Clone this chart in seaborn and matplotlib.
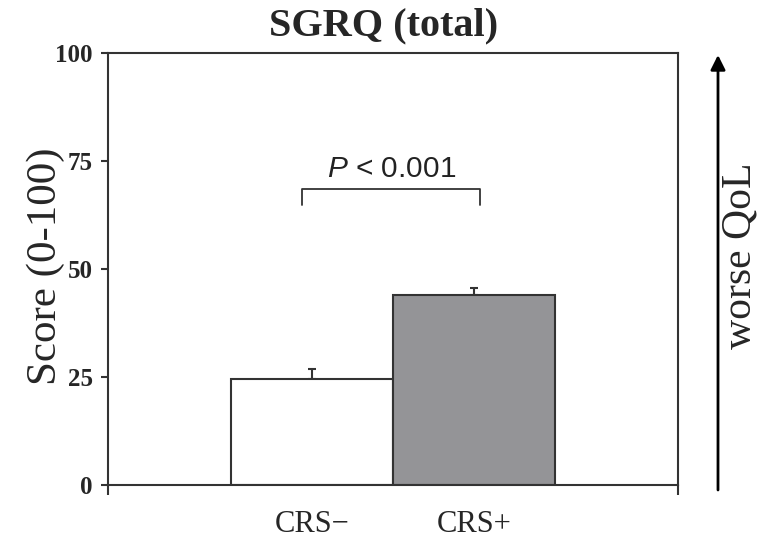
import matplotlib
matplotlib.use('Agg')
import matplotlib.pyplot as plt
import seaborn as sns
import pandas as pd

# ---- data ----
groups = ['CRS\u2212', 'CRS+']
means = [24.5, 44.0]
err_upper = [2.4, 1.6]
bar_colors = ['#ffffff', '#939498']
yticks = [0, 25, 50, 75, 100]
title = 'SGRQ (total)'
ylabel = 'Score (0-100)'
pvalue_text = r'$\mathit{P}$ < 0.001'
bracket_ends = [-0.06, 1.04]
bracket_top = 68.5
bracket_bottom = 64.8
side_label = 'worse QoL'

sns.set_theme(style='white')
plt.rcParams['font.family'] = ['Liberation Serif', 'DejaVu Serif']
plt.rcParams['mathtext.fontset'] = 'custom'
plt.rcParams['mathtext.it'] = 'Liberation Sans:italic'
plt.rcParams['mathtext.rm'] = 'Liberation Sans'

df = pd.DataFrame({'group': groups, 'mean': means})

fig = plt.figure(figsize=(7.66, 5.40), dpi=100)
ax = fig.add_axes([0.141, 0.1019, 0.744, 0.8005])

edge = '#333333'
sns.barplot(data=df, x='group', y='mean', hue='group', palette=bar_colors,
            width=1.0, edgecolor=edge, linewidth=1.5, legend=False,
            errorbar=None, ax=ax, zorder=2)
ax.errorbar(x=list(range(len(groups))), y=means,
            yerr=[[0] * len(groups), err_upper], fmt='none',
            ecolor=edge, elinewidth=1.5, capsize=3, capthick=1.5, zorder=1)

ax.set_xlim(-1.26, 2.26)
ax.set_ylim(0, 100)
ax.set_yticks(yticks)
ax.set_yticklabels([str(t) for t in yticks], fontsize=18, fontweight='bold')
ax.set_xticks(range(len(groups)))
ax.set_xticklabels(groups, fontsize=22)
ax.tick_params(axis='x', which='major', length=0, pad=18)
ax.set_xticks([-1.26, 2.26], minor=True)
ax.tick_params(axis='x', which='minor', length=7, width=1.5, color=edge, direction='out', bottom=True)
ax.tick_params(axis='y', which='major', length=5, width=1.5, color=edge, direction='out', left=True, pad=6)
ax.set_xlabel('')
ax.set_ylabel(ylabel, fontsize=31)
ax.yaxis.set_label_coords(-0.075, 0.505)

for s in ax.spines.values():
    s.set_visible(True)
    s.set_color(edge)
    s.set_linewidth(1.5)

# significance bracket
ax.plot([bracket_ends[0], bracket_ends[0], bracket_ends[1], bracket_ends[1]],
        [bracket_bottom, bracket_top, bracket_top, bracket_bottom],
        color=edge, lw=1.3, zorder=3)
ax.text(sum(bracket_ends) / 2, 71.2, pvalue_text, ha='center', va='baseline',
        fontsize=21.5, family='Liberation Sans', color='#222222')

fig.text(0.501, 1 - 26 / 540, title, ha='center', va='center',
         fontsize=29, fontweight='bold')
fig.text(740 / 766, 1 - 256 / 540, side_label, rotation=90, ha='center',
         va='center', fontsize=30)
ax.annotate('', xy=(718 / 766, 1 - 55 / 540), xytext=(718 / 766, 1 - 490 / 540),
            xycoords='figure fraction', textcoords='figure fraction',
            arrowprops=dict(arrowstyle='-|>', lw=2, color='black',
                            mutation_scale=22, shrinkA=0, shrinkB=0))

fig.savefig('out.png', dpi=100, facecolor='white')
